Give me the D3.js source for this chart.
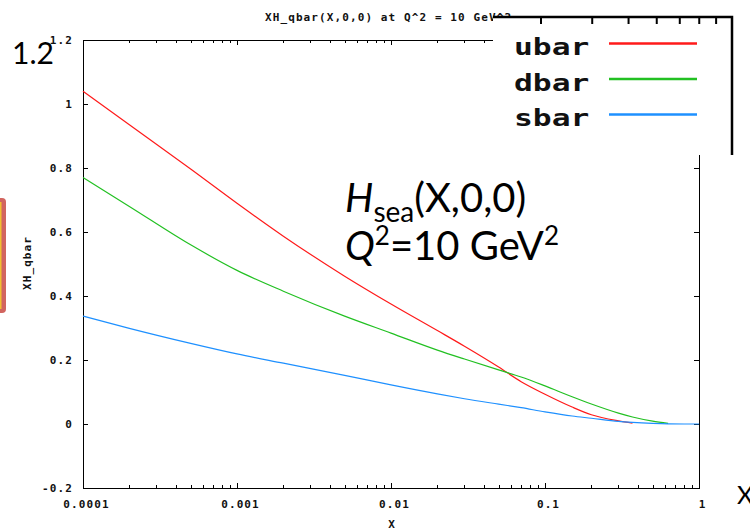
<!DOCTYPE html>
<html lang="en">
<head>
<meta charset="utf-8">
<title>XH_qbar</title>
<script src="https://cdn.jsdelivr.net/npm/d3@7"></script>
<style>
    body { margin: 0; background: #fff; }
    .gp text, text.gp {
        font-family: "DejaVu Sans Mono", monospace;
        font-weight: bold;
        font-size: 11px;
        letter-spacing: 1.1px;
        fill: #111;
    }
    .axis path { display: none; }
    .axis line { stroke: #000; shape-rendering: crispEdges; }
    .curve { fill: none; stroke-width: 1.2; }
</style>
</head>
<body>
<div id="chart"></div>
<script>
// x values (log axis) and the three sea quark curves
var xVals = [1e-4, 2e-4, 5e-4, 1e-3, 2e-3, 5e-3, 0.01, 0.02, 0.03, 0.05, 0.07, 0.1, 0.15, 0.2, 0.3, 0.37, 0.5, 0.63, 0.8, 1];
var ubar = [1.04, 0.935, 0.797, 0.69, 0.587, 0.462, 0.375, 0.292, 0.243, 0.178, 0.132, 0.093, 0.053, 0.029, 0.010, 0.003, null, null, null, null];
var dbar = [0.77, 0.68, 0.56, 0.48, 0.415, 0.337, 0.284, 0.231, 0.203, 0.169, 0.147, 0.119, 0.085, 0.0625, 0.034, 0.022, 0.009, 0.002, null, null];
var sbar = [0.3375, 0.299, 0.252, 0.219, 0.19, 0.152, 0.122, 0.094, 0.079, 0.062, 0.051, 0.038, 0.025, 0.018, 0.008, 0.005, 0.002, 0.0005, 0, 0];

var seriesNames = ["ubar", "dbar", "sbar"];
var seriesColors = ["#ff1a1a", "#22c022", "#1e90ff"];

var xMajor = [1e-4, 1e-3, 1e-2, 1e-1, 1];
var xMajorLabels = ["0.0001", "0.001", "0.01", "0.1", "1"];
var yTicks = [-0.2, 0, 0.2, 0.4, 0.6, 0.8, 1, 1.2];
var yTickLabels = ["-0.2", "0", "0.2", "0.4", "0.6", "0.8", "1", "1.2"];

var width = 750, height = 531;
var plotL = 83, plotR = 699, plotT = 40, plotB = 488;

var svg = d3.select("#chart").append("svg")
    .attr("width", width)
    .attr("height", height);

var x = d3.scaleLog().domain([1e-4, 1]).range([plotL, plotR]);
var y = d3.scaleLinear().domain([-0.2, 1.2]).range([plotB, plotT]);

// minor ticks 2..9 per decade
var xMinor = [];
xMajor.slice(0, -1).forEach(function(d) {
    for (var k = 2; k < 10; k++) xMinor.push(d * k);
});

var gp = svg.append("g").attr("class", "gp");

function fmtX(d) { return xMajorLabels[xMajor.indexOf(d)]; }
function fmtY(d) { return yTickLabels[yTicks.indexOf(d)]; }

gp.append("g").attr("class", "axis")
    .attr("transform", "translate(0," + plotB + ")")
    .call(d3.axisBottom(x).tickValues(xMajor).tickFormat(fmtX).tickSizeInner(-5).tickSizeOuter(0).tickPadding(12))
    .selectAll("text").attr("dx", "3");

gp.append("g").attr("class", "axis")
    .attr("transform", "translate(0," + plotB + ")")
    .call(d3.axisBottom(x).tickValues(xMinor).tickFormat("").tickSizeInner(-3).tickSizeOuter(0));

gp.append("g").attr("class", "axis")
    .attr("transform", "translate(0," + plotT + ")")
    .call(d3.axisTop(x).tickValues(xMajor).tickFormat("").tickSizeInner(-5).tickSizeOuter(0));

gp.append("g").attr("class", "axis")
    .attr("transform", "translate(0," + plotT + ")")
    .call(d3.axisTop(x).tickValues(xMinor).tickFormat("").tickSizeInner(-3).tickSizeOuter(0));

gp.append("g").attr("class", "axis")
    .attr("transform", "translate(" + plotL + ",0)")
    .call(d3.axisLeft(y).tickValues(yTicks).tickFormat(fmtY).tickSizeInner(-5).tickSizeOuter(0).tickPadding(10));

gp.append("g").attr("class", "axis")
    .attr("transform", "translate(" + plotR + ",0)")
    .call(d3.axisRight(y).tickValues(yTicks).tickFormat("").tickSizeInner(-5).tickSizeOuter(0));

// frame
svg.append("rect")
    .attr("x", plotL).attr("y", plotT)
    .attr("width", plotR - plotL).attr("height", plotB - plotT)
    .attr("fill", "none").attr("stroke", "#000").attr("stroke-width", 1)
    .attr("shape-rendering", "crispEdges");

// curves
var line = d3.line()
    .defined(function(d) { return d[1] !== null; })
    .x(function(d) { return x(d[0]); })
    .y(function(d) { return y(d[1]); })
    .curve(d3.curveMonotoneX);

[ubar, dbar, sbar].forEach(function(s, i) {
    svg.append("path")
        .attr("class", "curve")
        .attr("stroke", seriesColors[i])
        .attr("d", line(xVals.map(function(d, j) { return [d, s[j]]; })));
});

// gnuplot title and labels
svg.append("text").attr("class", "gp")
    .attr("x", 265).attr("y", 21)
    .text("XH_qbar(X,0,0) at Q^2 = 10 GeV^2");

svg.append("text").attr("class", "gp")
    .attr("transform", "translate(31,263) rotate(-90)")
    .attr("text-anchor", "middle")
    .text("XH_qbar");

svg.append("text").attr("class", "gp")
    .attr("x", 392).attr("y", 528)
    .attr("text-anchor", "middle")
    .text("X");

// enlarged legend pasted over the plot
var box = svg.append("g");
box.append("rect")
    .attr("x", 493).attr("y", 17)
    .attr("width", 240).attr("height", 138)
    .attr("fill", "#fff");
box.append("path")
    .attr("d", "M493,17H732V155")
    .attr("fill", "none").attr("stroke", "#000").attr("stroke-width", 2.5);

var zoomAxis = d3.scaleLog().domain([2, 9]).range([541, 731]);
box.selectAll(".ztick")
    .data([2, 3, 4, 5, 6, 7, 8])
    .enter().append("line")
    .attr("x1", function(d) { return zoomAxis(d); })
    .attr("x2", function(d) { return zoomAxis(d); })
    .attr("y1", 17).attr("y2", 24)
    .attr("stroke", "#000").attr("stroke-width", 2);

var leg = box.selectAll(".leg")
    .data(seriesNames)
    .enter().append("g")
    .attr("transform", function(d, i) { return "translate(0," + (i * 35.5) + ")"; });

leg.append("text")
    .attr("transform", "translate(514,55) scale(1.36,1)")
    .style("font-family", "'DejaVu Sans Mono', monospace")
    .style("font-weight", "bold")
    .style("font-size", "23px")
    .style("fill", "#111")
    .text(function(d) { return d; });

leg.append("line")
    .attr("x1", 609).attr("x2", 697)
    .attr("y1", 43.5).attr("y2", 43.5)
    .attr("stroke", function(d, i) { return seriesColors[i]; })
    .attr("stroke-width", 2.5);

// slide annotations
var note = svg.append("g")
    .style("font-family", "Lato, 'Open Sans', sans-serif")
    .style("fill", "#000");

var l1 = note.append("text").attr("x", 345).attr("y", 212).style("font-size", "40px");
l1.append("tspan").style("font-style", "italic").text("H");
l1.append("tspan").attr("dy", 10).style("font-size", "28px").text("sea");
l1.append("tspan").attr("dy", -10).text("(X,0,0)");

var l2 = note.append("text").attr("x", 345).attr("y", 260).style("font-size", "40px");
l2.append("tspan").style("font-style", "italic").text("Q");
l2.append("tspan").attr("dy", -15).style("font-size", "26px").text("2");
l2.append("tspan").attr("dy", 15).text("=10 GeV");
l2.append("tspan").attr("dy", -15).style("font-size", "26px").text("2");

note.append("text").attr("x", 12).attr("y", 64).style("font-size", "30px").text("1.2");
note.append("text").attr("x", 737).attr("y", 504).style("font-size", "25px").text("X");

// clipped marker box at the left edge
svg.append("rect")
    .attr("x", -12).attr("y", 198)
    .attr("width", 18).attr("height", 115)
    .attr("rx", 4)
    .attr("fill", "#d2655f");
svg.append("rect")
    .attr("x", -12).attr("y", 202)
    .attr("width", 13.5).attr("height", 107)
    .attr("fill", "#f0c030");
</script>
</body>
</html>
